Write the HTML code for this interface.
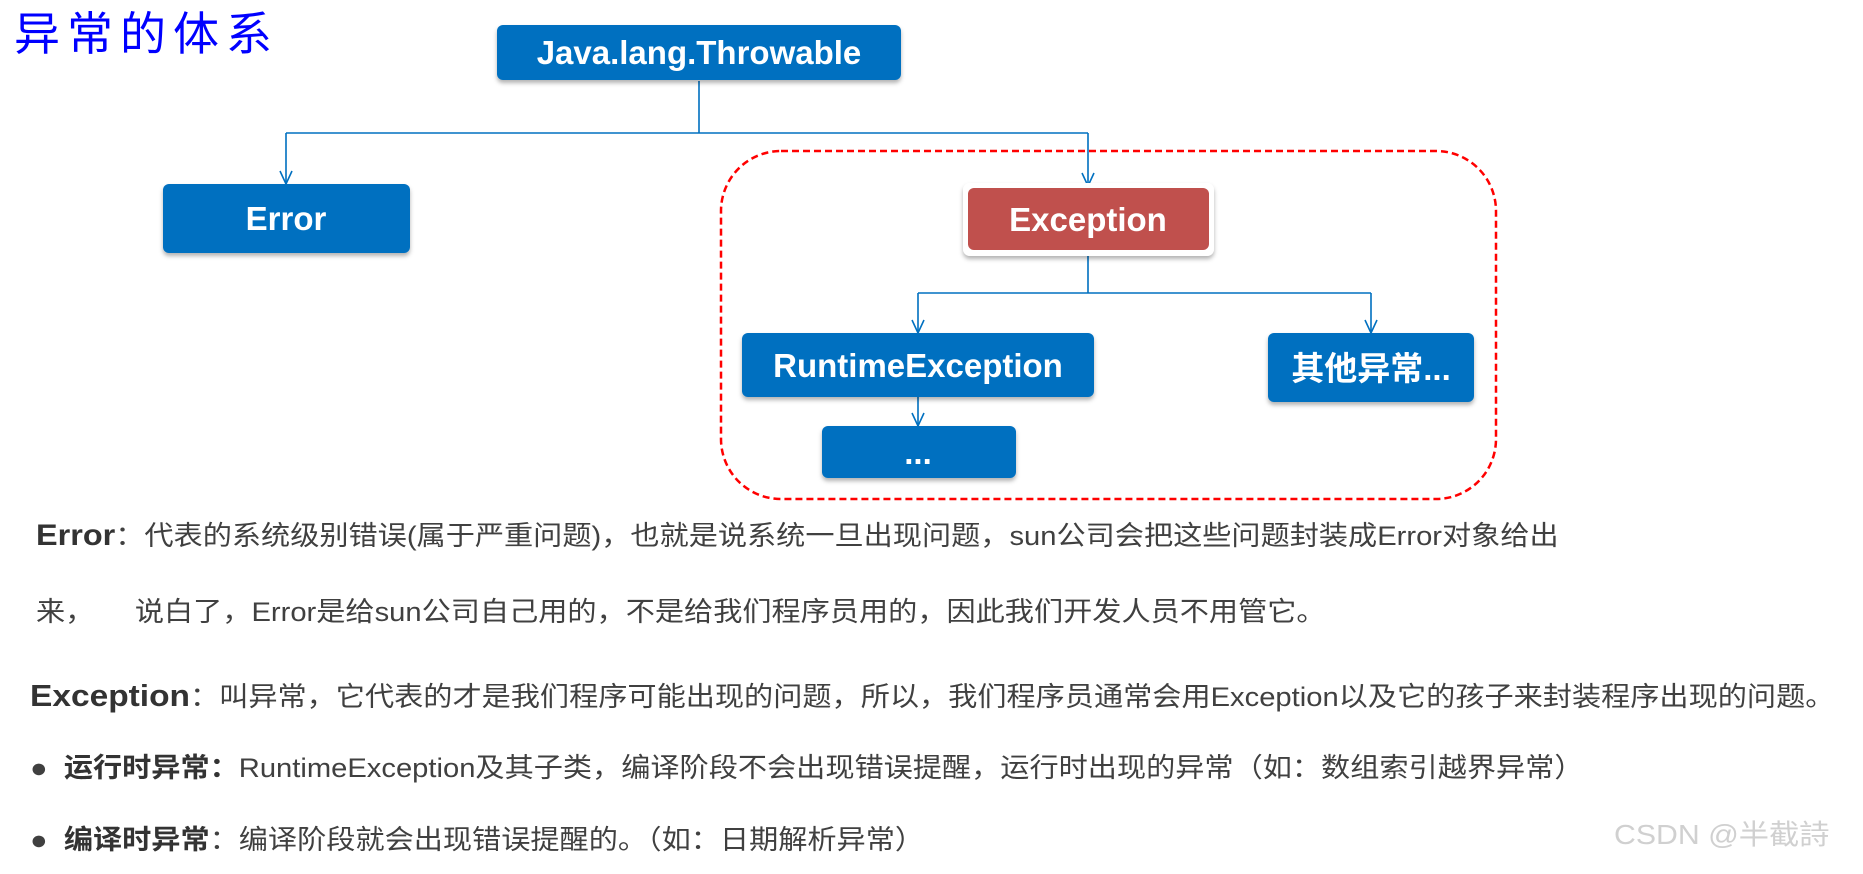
<!DOCTYPE html>
<html><head><meta charset="utf-8"><style>
html,body{margin:0;padding:0;background:#fff;}
body{width:1863px;height:874px;position:relative;overflow:hidden;font-family:"Liberation Sans","Noto Sans CJK SC",sans-serif;}
.t{position:absolute;white-space:nowrap;color:#404040;font-size:27px;line-height:30px;transform-origin:0 50%;transform:scaleX(1.08);}
.b{font-weight:bold;color:#333;}
</style></head><body>
<svg width="1863" height="874" style="position:absolute;left:0;top:0">
<defs><filter id="s" x="-10%" y="-10%" width="120%" height="130%"><feDropShadow dx="0" dy="3" stdDeviation="2" flood-color="#000" flood-opacity="0.3"/></filter></defs>
<text x="14" y="50" font-family="'WenQuanYi Zen Hei','Noto Sans CJK SC',sans-serif" font-size="46" letter-spacing="7" fill="#0000ff">异常的体系</text>
<rect x="721" y="151" width="775" height="348" rx="60" fill="none" stroke="#ff0000" stroke-width="2.5" stroke-dasharray="7,4"/>
<g stroke="#0070C0" stroke-width="1.6" fill="none">
<path d="M699 81V133M286 133H1088M286 133V184M1088 133V186"/>
<path d="M1088 253V293M918 293H1371M918 293V333M1371 293V333M918 397V426"/>
<path d="M280 171L286 184L292 171M1082 173L1088 186L1094 173M912 320L918 333L924 320M1365 320L1371 333L1377 320M912 413L918 426L924 413"/>
</g>
<g filter="url(#s)">
<rect x="497" y="25" width="404" height="55" rx="6" fill="#0070C0"/>
<rect x="163" y="184" width="247" height="69" rx="6" fill="#0070C0"/>
<rect x="963" y="183" width="251" height="73" rx="7" fill="#fff"/>
<rect x="742" y="333" width="352" height="64" rx="6" fill="#0070C0"/>
<rect x="1268" y="333" width="206" height="69" rx="6" fill="#0070C0"/>
<rect x="822" y="426" width="194" height="52" rx="6" fill="#0070C0"/>
</g>
<rect x="968" y="188" width="241" height="62" rx="6" fill="#C0504D"/>
<g fill="#fff" font-weight="bold" font-size="33" text-anchor="middle" font-family="'Liberation Sans','Noto Sans CJK SC',sans-serif">
<text x="699" y="64">Java.lang.Throwable</text>
<text x="286" y="230">Error</text>
<text x="1088" y="231">Exception</text>
<text x="918" y="377">RuntimeException</text>
<text x="1371" y="380">其他异常...</text>
<text x="918" y="464">...</text>
</g>
</svg>
<div class="t" style="left:36px;top:521px"><span class="b" style="font-size:30px">Error</span>：代表的系统级别错误(属于严重问题)，也就是说系统一旦出现问题，sun公司会把这些问题封装成Error对象给出</div>
<div class="t" style="left:36px;top:597px">来，&nbsp;&nbsp;&nbsp;&nbsp;&nbsp;说白了，Error是给sun公司自己用的，不是给我们程序员用的，因此我们开发人员不用管它。</div>
<div class="t" style="left:30px;top:681px"><span class="b" style="font-size:31px">Exception</span>：叫异常，它代表的才是我们程序可能出现的问题，所以，我们程序员通常会用Exception以及它的孩子来封装程序出现的问题。</div>
<div class="t" style="left:30px;top:753px">●&nbsp;&nbsp;<span class="b">运行时异常：</span>RuntimeException及其子类，编译阶段不会出现错误提醒，运行时出现的异常（如：数组索引越界异常）</div>
<div class="t" style="left:30px;top:825px">●&nbsp;&nbsp;<span class="b">编译时异常</span>：编译阶段就会出现错误提醒的。（如：日期解析异常）</div>
<div class="t" style="left:1614px;top:820px;color:#d0d0d0;font-size:28px">CSDN @半截詩</div>
</body></html>
